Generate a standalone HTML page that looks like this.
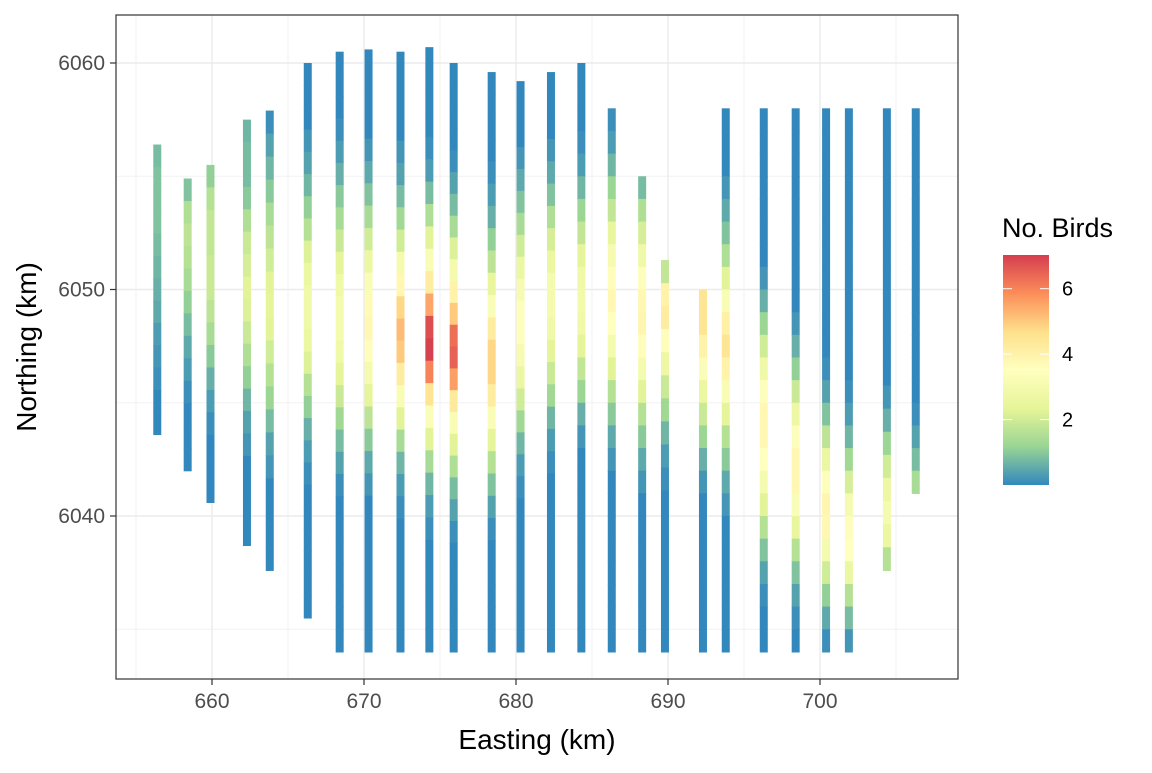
<!DOCTYPE html>
<html><head><meta charset="utf-8"><style>
body{margin:0;background:#fff;font-family:"Liberation Sans",sans-serif}
</style></head><body>
<svg id="chart" width="1152" height="768" xmlns="http://www.w3.org/2000/svg">
<defs><linearGradient id="lg" x1="0" y1="1" x2="0" y2="0">
<stop offset="0" stop-color="#3288BD"/><stop offset="0.1667" stop-color="#99D594"/><stop offset="0.3333" stop-color="#E6F598"/><stop offset="0.5" stop-color="#FFFFBF"/><stop offset="0.6667" stop-color="#FEE08B"/><stop offset="0.8333" stop-color="#FC8D59"/><stop offset="1" stop-color="#D53E4F"/></linearGradient></defs>
<g id="grid"></g><g id="marks"></g><g id="axes"></g>
<rect x="116" y="15" width="842" height="664" fill="none" stroke="#333" stroke-width="1.2"/>
<text x="537" y="749" text-anchor="middle" font-size="28" fill="#000">Easting (km)</text>
<text transform="translate(36,347) rotate(-90)" text-anchor="middle" font-size="28" fill="#000">Northing (km)</text>
<g>
<text x="1002" y="237" font-size="27" fill="#000">No. Birds</text>
<rect x="1003" y="255" width="46" height="230" fill="url(#lg)"/>
<g id="legticks"></g>
</g>
</svg>
<script>
const xTicks=[660,670,680,690,700];
const yTicks=[6040,6050,6060];
const legendTicks=[2,4,6];
const transX=[656.4,658.4,659.9,662.3,663.8,666.3,668.4,670.3,672.4,674.3,675.9,678.4,680.3,682.3,684.3,686.3,688.3,689.8,692.3,693.8,696.3,698.4,700.4,701.9,704.4,706.3];
const transTop=[6056.4,6054.9,6055.5,6057.5,6057.9,6060,6060.5,6060.6,6060.5,6060.7,6060,6059.6,6059.2,6059.6,6060,6058,6055,6051.3,6050,6058,6058,6058,6058,6058,6058,6058];
const transBottom=[6043.6,6042,6040.6,6038.7,6037.6,6035.5,6034,6034,6034,6034,6034,6034,6034,6034,6034,6034,6034,6034,6034,6034,6034,6034,6034,6034,6037.6,6041];
const transVals=[
[0.8,0.9,0.9,0.9,0.8,0.7,0.6,0.5,0.3,0.2,0.1,0,0],
[0.9,1.5,1.7,1.6,1.4,1.1,0.8,0.5,0.3,0.1,0,0,0],
[1.1,1.6,1.8,1.8,1.9,1.9,1.7,1.4,1,0.6,0.3,0.1,0,0,0],
[0.7,0.8,0.8,1,1.5,1.9,2.1,2.3,2.2,1.9,1.5,1.1,0.7,0.4,0.2,0,0,0,0],
[0.1,0.4,0.7,1,1.4,1.7,2,2.3,2.4,2.3,2,1.6,1.2,0.8,0.4,0.2,0,0,0,0],
[0,0,0,0.2,0.4,0.7,1.1,1.6,2.2,2.6,2.8,2.8,2.6,2.2,1.6,1.1,0.6,0.3,0.1,0,0,0,0,0,0],
[0,0,0,0.1,0.3,0.6,1,1.4,1.9,2.4,2.8,3,3,2.8,2.4,1.9,1.3,0.8,0.4,0.1,0,0,0,0,0,0,0],
[0,0,0,0,0.2,0.5,0.9,1.4,2,2.6,3.2,3.7,3.8,3.6,3,2.4,1.7,1,0.5,0.2,0,0,0,0,0,0,0],
[0,0,0,0,0.2,0.4,0.8,1.3,2,3,3.8,4.8,5.2,5,4.2,3.2,2.3,1.4,0.7,0.3,0.1,0,0,0,0,0,0],
[0,0,0,0,0.1,0.3,0.8,1.5,2.3,3.2,4.2,5.5,6.8,7,6,4.5,3.3,2.3,1.4,0.7,0.3,0.1,0,0,0,0,0],
[0,0,0,0,0.1,0.4,0.8,1.4,2.2,3,4,5,6.3,6.5,5.6,4.3,3.2,2.3,1.5,0.8,0.4,0.1,0,0,0,0,0],
[0,0,0,0,0.1,0.3,0.6,1.1,1.7,2.5,3.3,4.2,4.8,4.8,4.2,3.3,2.4,1.6,0.9,0.4,0.1,0,0,0,0,0],
[0,0,0,0.2,0.5,0.9,1.4,2,2.6,3.1,3.4,3.4,3.1,2.6,2,1.3,0.7,0.3,0.1,0,0,0,0,0,0,0],
[0,0,0,0.2,0.5,0.9,1.5,2.1,2.6,3,3,2.8,2.4,1.9,1.3,0.7,0.3,0.1,0,0,0,0,0,0,0,0],
[0,0,0,0.1,0.3,0.7,1.2,1.8,2.4,2.8,2.9,2.8,2.4,1.8,1.2,0.6,0.2,0,0,0,0,0,0,0,0,0],
[0.1,0.3,0.7,1.2,1.8,2.5,3.1,3.6,3.8,3.5,3,2.3,1.6,1,0.5,0.2,0,0,0,0,0,0,0,0],
[0.8,1.5,2.1,2.8,3.4,3.8,3.9,3.6,3,2.3,1.6,1,0.5,0.2,0,0,0,0,0,0,0],
[1.8,4,4.2,3.6,2.7,1.9,1.3,0.7,0.3,0.1,0,0,0,0,0,0,0],
[4.5,4.5,4,3.3,2.6,1.9,1.2,0.6,0.2,0,0,0,0,0,0,0],
[0,0,0,0.2,0.5,0.9,1.5,2.3,3.2,4.1,4.5,4,3.2,2.4,1.6,1,0.5,0.2,0,0,0,0,0,0],
[0,0,0,0,0,0,0,0.2,0.6,1.2,2,2.8,3.4,3.8,3.8,3.5,3,2.3,1.6,0.9,0.4,0.1,0,0],
[0,0,0,0,0,0,0,0,0,0.2,0.6,1.1,1.9,2.7,3.4,3.8,3.8,3.3,2.5,1.6,0.9,0.4,0.1,0],
[0,0,0,0,0,0,0,0,0,0,0,0.1,0.4,0.9,1.7,2.6,3.4,3.9,3.8,3,2,1.1,0.5,0.1],
[0,0,0,0,0,0,0,0,0,0,0,0,0.1,0.3,0.7,1.3,2.1,3,3.6,3.5,2.6,1.6,0.8,0.2],
[0,0,0,0,0,0,0,0,0,0,0,0,0.2,0.6,1.2,2,2.7,3,2.6,1.6],
[0,0,0,0,0,0,0,0,0,0,0,0,0,0.1,0.4,0.8,1.4]
];
const NS="http://www.w3.org/2000/svg";
const xs=v=>212+(v-660)*15.2;
const ys=v=>63+(6060-v)*22.65;
const VMAX=7.03;
const stops=["#3288BD","#99D594","#E6F598","#FFFFBF","#FEE08B","#FC8D59","#D53E4F"].map(h=>[1,3,5].map(i=>parseInt(h.substr(i,2),16)));
function col(v){let t=Math.max(0,Math.min(1,v/VMAX))*6;let i=Math.min(5,Math.floor(t));let f=t-i;
const c=stops[i].map((a,k)=>Math.round(a+(stops[i+1][k]-a)*f));return `rgb(${c})`;}
function mk(tag,attrs,parent){const e=document.createElementNS(NS,tag);for(const k in attrs)e.setAttribute(k,attrs[k]);parent.appendChild(e);return e;}
const grid=document.getElementById('grid'),marks=document.getElementById('marks'),axes=document.getElementById('axes');
mk('rect',{x:116,y:15,width:842,height:664,fill:'#fff'},grid);
[655,665,675,685,695,705].forEach(v=>{const l=mk('line',{x1:xs(v),x2:xs(v),y1:15,y2:679,stroke:'#f2f2f2','stroke-width':1},grid);

});
[6035,6045,6055].forEach(v=>{const l=mk('line',{x1:116,x2:958,y1:ys(v),y2:ys(v),stroke:'#f2f2f2','stroke-width':1},grid);

});
xTicks.forEach(v=>{const l=mk('line',{x1:xs(v),x2:xs(v),y1:15,y2:679,stroke:'#ebebeb','stroke-width':1.4},grid);


mk('line',{x1:xs(v),x2:xs(v),y1:679,y2:685,stroke:'#333','stroke-width':1.2},axes);
const t=mk('text',{x:xs(v),y:708,'text-anchor':'middle','font-size':21,fill:'#4d4d4d'},axes);t.textContent=v;

});
yTicks.forEach(v=>{const l=mk('line',{x1:116,x2:958,y1:ys(v),y2:ys(v),stroke:'#ebebeb','stroke-width':1.4},grid);


mk('line',{x1:110,x2:116,y1:ys(v),y2:ys(v),stroke:'#333','stroke-width':1.2},axes);
const t=mk('text',{x:105,y:ys(v)+7,'text-anchor':'end','font-size':21,fill:'#4d4d4d'},axes);t.textContent=v;

});
transX.forEach((x,i)=>{const g=mk('g',{},marks);


const vals=transVals[i],top=transTop[i],bot=transBottom[i],step=(top-bot)/vals.length;
vals.forEach((v,j)=>{const y0=ys(top-j*step),y1=ys(top-(j+1)*step);
const r=mk('rect',{x:xs(x)-4,y:y0,width:8,height:y1-y0+0.6,fill:col(v)},g);

});});
const lt=document.getElementById('legticks');
legendTicks.forEach(v=>{const y=485-v*230/VMAX;
mk('line',{x1:1003,x2:1012,y1:y,y2:y,stroke:'#fff','stroke-width':1},lt);
mk('line',{x1:1040,x2:1049,y1:y,y2:y,stroke:'#fff','stroke-width':1},lt);
const t=mk('text',{x:1062,y:y+7,'font-size':20,fill:'#000'},lt);t.textContent=v;

});
</script>
</body></html>
